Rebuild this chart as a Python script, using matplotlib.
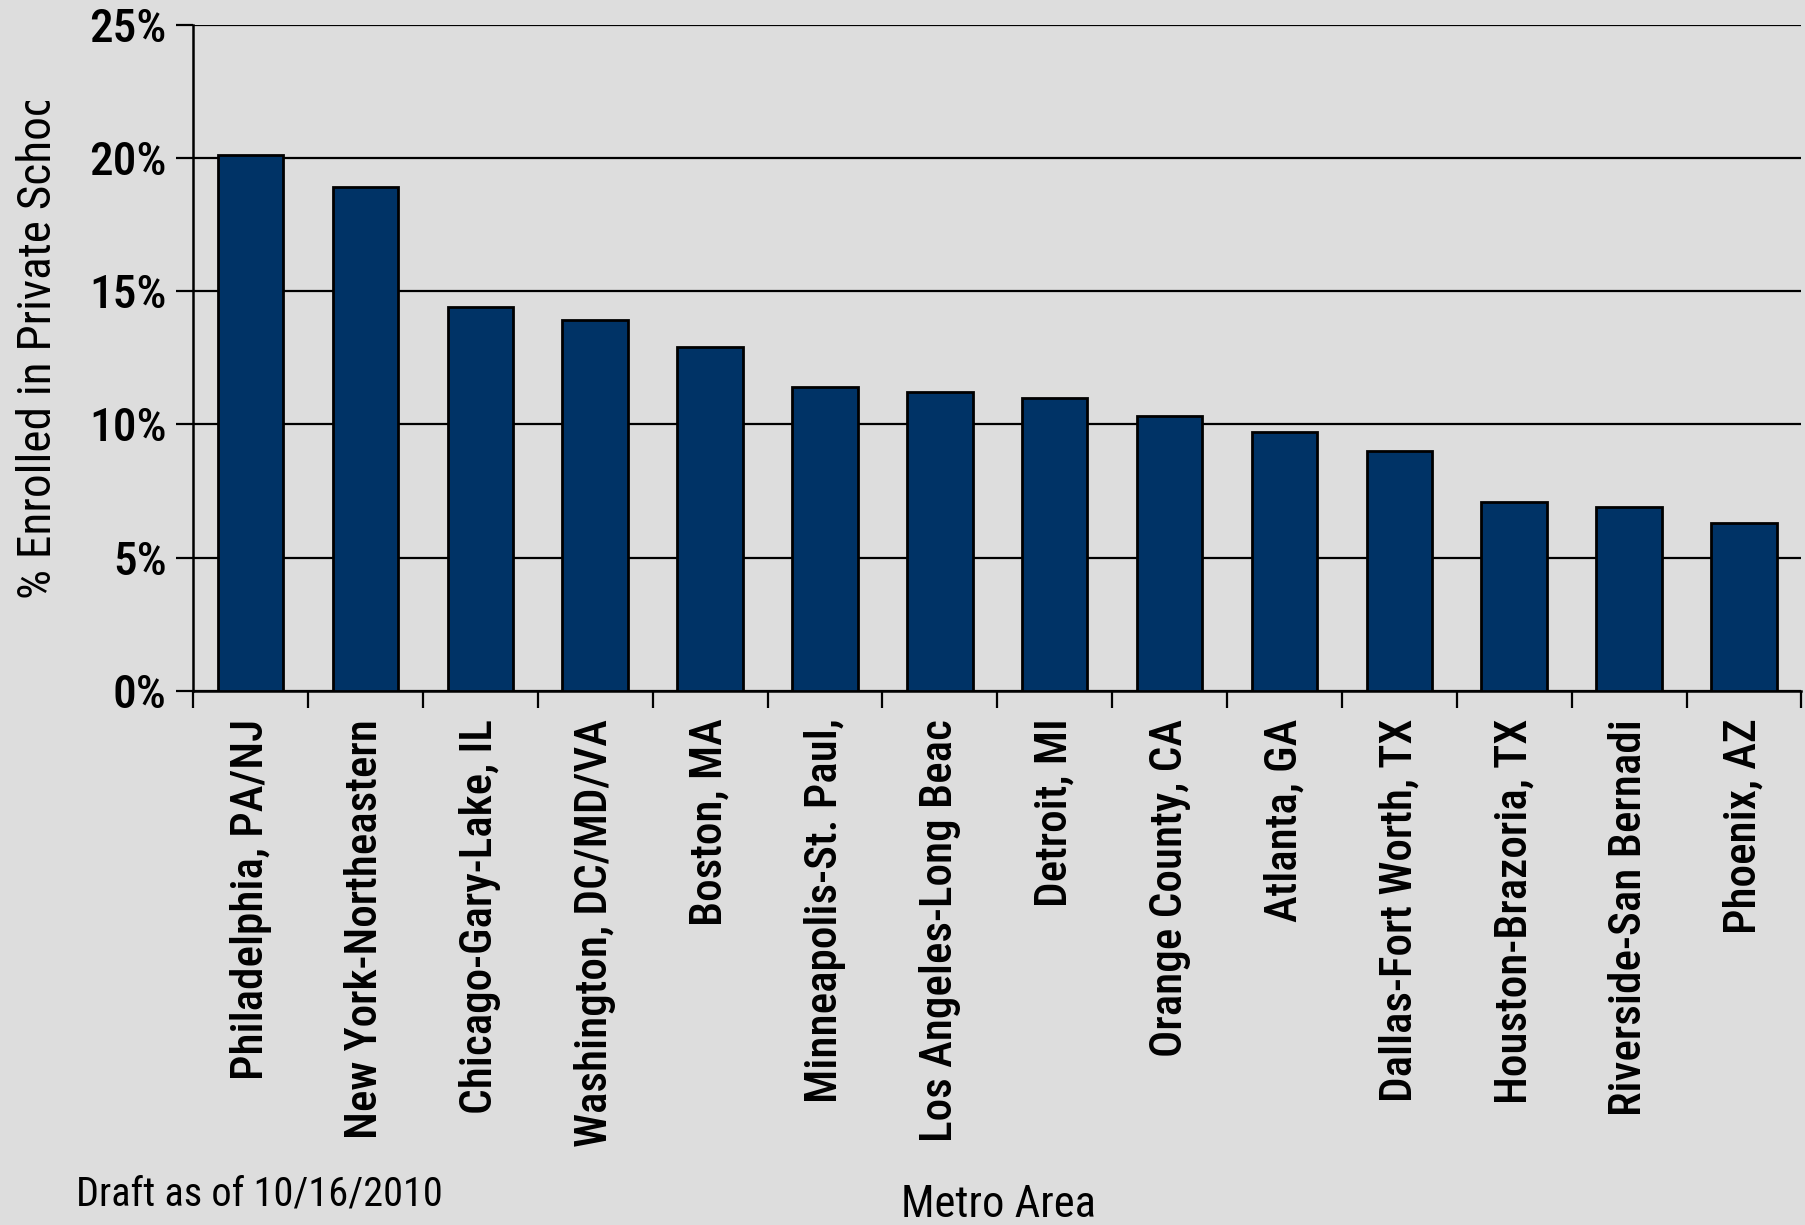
import matplotlib
matplotlib.use("Agg")
import matplotlib.pyplot as plt
from matplotlib.ticker import FuncFormatter, FixedLocator
from matplotlib.transforms import Bbox

# Data
metros = ["Philadelphia, PA/NJ", "New York-Northeastern", "Chicago-Gary-Lake, IL",
          "Washington, DC/MD/VA", "Boston, MA", "Minneapolis-St. Paul,",
          "Los Angeles-Long Beac", "Detroit, MI", "Orange County, CA",
          "Atlanta, GA", "Dallas-Fort Worth, TX", "Houston-Brazoria, TX",
          "Riverside-San Bernadi", "Phoenix, AZ"]
pct_private = [20.1, 18.9, 14.4, 13.9, 12.9, 11.4, 11.2, 11.0, 10.3, 9.7, 9.0, 7.1, 6.9, 6.3]
yticks = [0, 5, 10, 15, 20, 25]

fam = ["Roboto Condensed", "Liberation Sans", "DejaVu Sans"]
plt.rcParams["font.family"] = fam
bg = "#dddddd"

fig = plt.figure(figsize=(18.05, 12.25), dpi=100, facecolor=bg)
ax = fig.add_axes([0.107, 0.436, 0.891, 0.544])
ax.set_facecolor(bg)

x = list(range(len(metros)))
ax.bar(x, pct_private, width=0.57, color="#003366", edgecolor="black", linewidth=2, zorder=3)

ax.set_xlim(-0.5, len(metros) - 0.5)
ax.set_ylim(0, 25)
ax.set_yticks(yticks)
ax.yaxis.set_major_formatter(FuncFormatter(lambda v, p: f"{int(v)}%"))
ax.grid(axis="y", color="black", linewidth=1.6, zorder=1)

# labels at bar centres, tick marks at category boundaries
ax.set_xticks(x)
ax.set_xticklabels(metros, rotation=90, fontsize=32.5, fontweight=500)
ax.xaxis.set_minor_locator(FixedLocator([i - 0.5 for i in range(len(metros) + 1)]))
ax.tick_params(axis="x", which="major", length=0, pad=20)
ax.tick_params(axis="x", which="minor", length=12, width=1.6, direction="out")
ax.tick_params(axis="y", length=12, width=1.6, direction="out", pad=7, labelsize=34)
for t in ax.get_yticklabels():
    t.set_fontweight(500)

for s in ["top", "right"]:
    ax.spines[s].set_visible(False)
ax.spines["left"].set_linewidth(1.8)
ax.spines["bottom"].set_linewidth(1.8)

# y label clipped at the top like the original
yl = fig.text(0.021, 0.511, "% Enrolled in Private School", rotation=90,
              ha="center", va="bottom", fontsize=34)
yl.set_clip_box(Bbox.from_extents(0, 0, 1805, 1225 - 101))
yl.set_clip_on(True)

fig.text(0.042, 0.025, "Draft as of 10/16/2010", fontsize=29, ha="left", va="center")
fig.text(0.553, 0.016, "Metro Area", fontsize=32, ha="center", va="center")

fig.savefig("out.png", dpi=100, facecolor=bg)
